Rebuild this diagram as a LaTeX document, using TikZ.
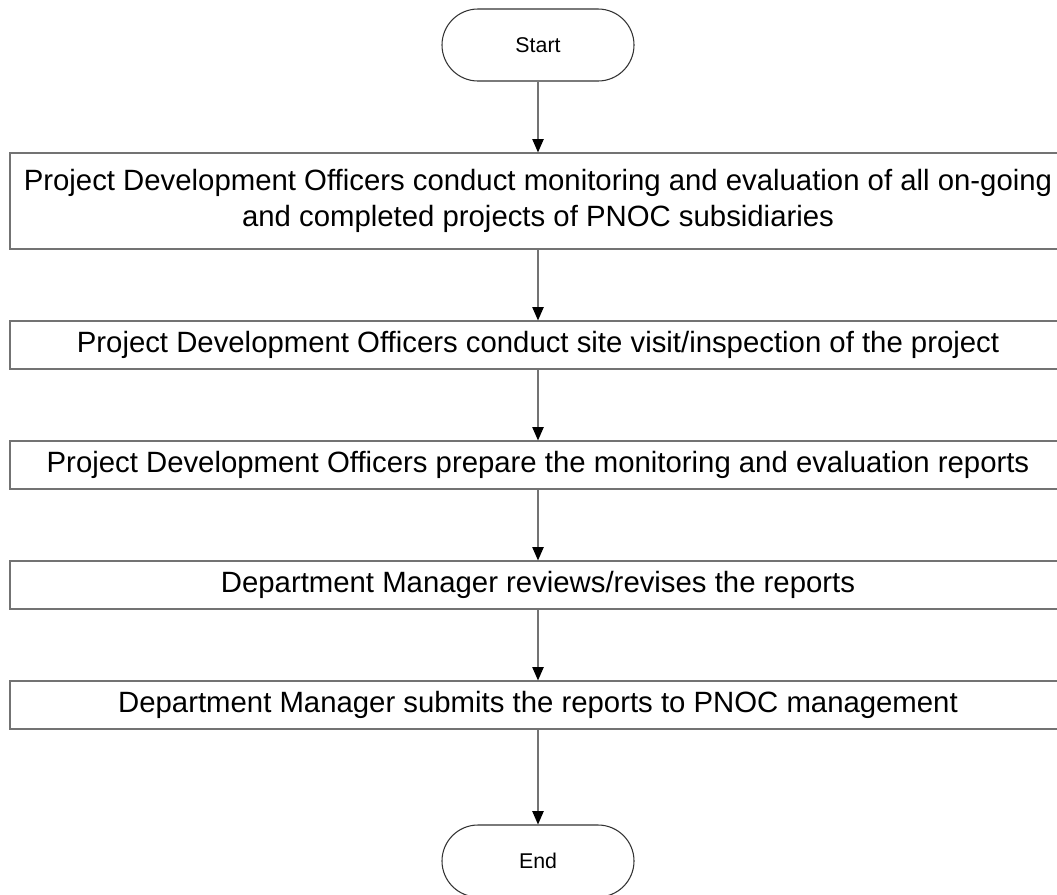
\documentclass[tikz,border=0pt]{standalone}
\usepackage{fontspec}
\setmainfont{Liberation Sans}
\usetikzlibrary{arrows.meta,positioning}
\begin{document}
\begin{tikzpicture}[x=0.75pt,y=-0.75pt,
  procbox/.style={draw=black!55,line width=0.9pt,minimum width=792pt,inner sep=0pt,font=\fontsize{22}{27}\selectfont,align=center},
  termbox/.style={draw=black!80,line width=0.8pt,rounded corners=27pt,minimum width=144pt,minimum height=54pt,inner sep=0pt,font=\fontsize{16}{19}\selectfont},
  flow/.style={draw=black!55,line width=0.9pt,-{Triangle[length=10pt,width=8.5pt,color=black]}}]
\useasboundingbox (0,0) rectangle (1057,894);
\node[termbox] (start) at (538,45) {Start};
\node[procbox,minimum height=72pt] (b1) at (538,201) {Project Development Officers conduct monitoring and evaluation of all on-going\\and completed projects of PNOC subsidiaries};
\node[procbox,minimum height=36pt] (b2) at (538,345) {Project Development Officers conduct site visit/inspection of the project};
\node[procbox,minimum height=36pt] (b3) at (538,465) {Project Development Officers prepare the monitoring and evaluation reports};
\node[procbox,minimum height=36pt] (b4) at (538,585) {Department Manager reviews/revises the reports};
\node[procbox,minimum height=36pt] (b5) at (538,705) {Department Manager submits the reports to PNOC management};
\node[termbox] (end) at (538,861) {End};
\draw[flow] (start) -- (b1);
\draw[flow] (b1) -- (b2);
\draw[flow] (b2) -- (b3);
\draw[flow] (b3) -- (b4);
\draw[flow] (b4) -- (b5);
\draw[flow] (b5) -- (end);
\end{tikzpicture}
\end{document}
